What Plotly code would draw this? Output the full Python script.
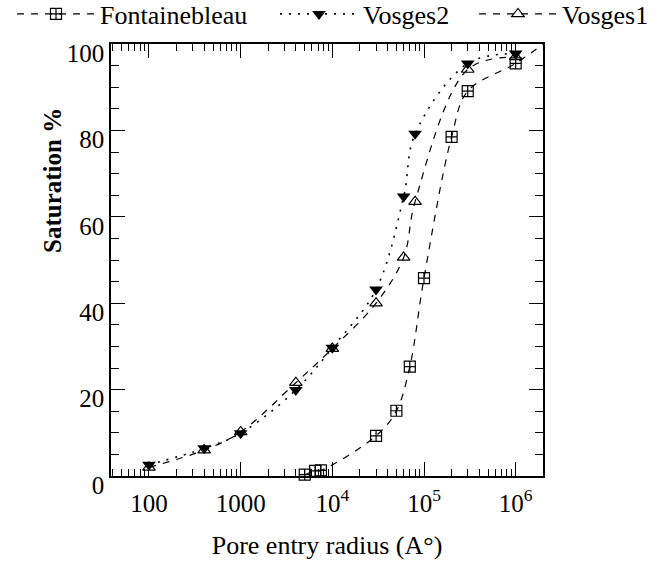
import plotly.graph_objects as go

# Data
font_x = [5000, 6500, 7500, 30000, 50000, 70000, 100000, 200000, 300000, 1000000, 2000000]
font_y = [0.3, 1.2, 1.3, 9.3, 15.1, 25.3, 45.8, 78.5, 89.1, 95.5, 100]

v2_x = [100, 400, 1000, 4000, 10000, 30000, 60000, 80000, 300000, 1000000]
v2_y = [2.6, 6.4, 9.9, 19.9, 29.7, 43.2, 64.7, 79.2, 95.5, 97.8]

v1_x = [100, 400, 1000, 4000, 10000, 30000, 60000, 80000, 300000, 1000000]
v1_y = [2.0, 6.0, 10.2, 21.6, 29.5, 40.0, 50.6, 63.5, 94.1, 97.0]

x_tickvals = [100, 1000, 10000, 100000, 1000000]
x_ticktext = ["100", "1000", "10<sup>4</sup>", "10<sup>5</sup>", "10<sup>6</sup>"]
x_minor = [k * 10 ** n for n in range(1, 7) for k in range(2, 10)]

serif = "Liberation Serif"

fig = go.Figure()
fig.add_trace(go.Scatter(
    x=font_x, y=font_y, name="Fontainebleau", mode="lines+markers", legend="legend",
    line=dict(color="black", width=1.2, dash="7px,7px", shape="spline"),
    marker=dict(symbol="square-cross-open", size=11, color="black", line=dict(width=1.2)),
    cliponaxis=False,
))
fig.add_trace(go.Scatter(
    x=v2_x, y=v2_y, name="Vosges2", mode="lines+markers", legend="legend2",
    line=dict(color="black", width=1.6, dash="2px,7px", shape="spline"),
    marker=dict(symbol="triangle-down", size=12, color="black"),
    cliponaxis=False,
))
fig.add_trace(go.Scatter(
    x=v1_x, y=v1_y, name="Vosges1", mode="lines+markers", legend="legend3",
    line=dict(color="black", width=1.2, dash="7px,7px", shape="spline"),
    marker=dict(symbol="triangle-up-open", size=11, color="black", line=dict(width=1.2)),
    cliponaxis=False,
))

W, H = 658, 561
L, R, T, B = 111, 115, 44, 85
pw, ph = W - L - R, H - T - B

def leg(px):
    return dict(orientation="h", x=px / W, xanchor="left",
                y=(T + ph - 14) / ph, yanchor="middle",
                xref="container", yref="paper",
                font=dict(size=26, family=serif, color="black"), itemwidth=78,
                bgcolor="rgba(0,0,0,0)", borderwidth=0, tracegroupgap=0)

fig.update_layout(
    width=W, height=H,
    margin=dict(l=L, r=R, t=T, b=B, autoexpand=False),
    paper_bgcolor="white", plot_bgcolor="white",
    font=dict(family=serif, color="black", size=25),
    showlegend=True,
    legend=leg(12),
    legend2=leg(275),
    legend3=leg(474),
    annotations=[dict(
        text="<b>Saturation %</b>", textangle=-90, showarrow=False,
        xref="paper", yref="paper",
        x=(53 - L) / pw, y=(T + ph - 180) / ph, xanchor="center", yanchor="middle",
        font=dict(size=25, family=serif, color="black"),
    )],
)
fig.update_xaxes(
    type="log", range=[1.586, 6.298],
    tickmode="array", tickvals=x_tickvals, ticktext=x_ticktext,
    ticks="inside", ticklen=14, tickwidth=1.2, tickcolor="black",
    minor=dict(tickmode="array", tickvals=x_minor, ticks="inside", ticklen=7,
               tickwidth=1, tickcolor="black"),
    showline=True, linecolor="black", linewidth=1.5, mirror="allticks",
    showgrid=False, zeroline=False,
    tickfont=dict(size=25, family=serif), ticklabelstandoff=4,
    title=dict(text="Pore entry radius (A°)", font=dict(size=26, family=serif), standoff=20),
)
fig.update_yaxes(
    range=[0, 100], tickmode="linear", tick0=0, dtick=20,
    ticks="inside", ticklen=14, tickwidth=1.2, tickcolor="black",
    minor=dict(dtick=5, ticks="inside", ticklen=8, tickwidth=1, tickcolor="black"),
    showline=True, linecolor="black", linewidth=1.5, mirror="allticks",
    showgrid=False, zeroline=False,
    tickfont=dict(size=25, family=serif), ticklabelshift=9,
)

fig.write_html("out.html")
